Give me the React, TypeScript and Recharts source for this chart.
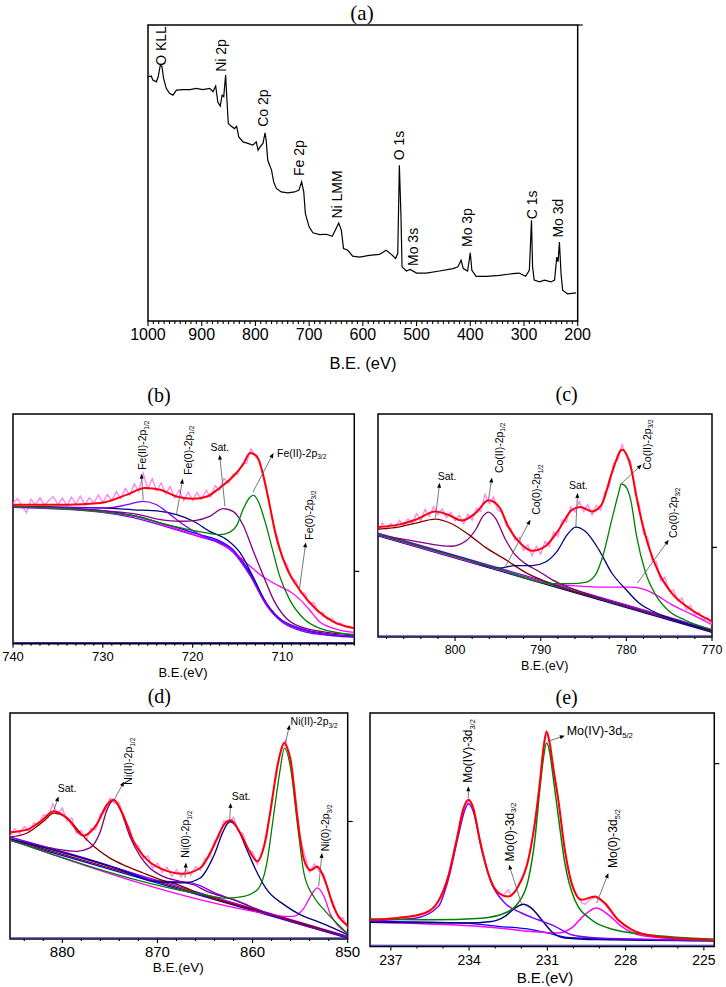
import React from 'react';
import { LineChart, Line, XAxis, YAxis, ReferenceArea, ReferenceDot, ReferenceLine } from 'recharts';

type Pt = [number, number];

const SANS = '"Liberation Sans", Arial, Helvetica, sans-serif';
const SERIF = '"Liberation Serif", "Times New Roman", serif';

// ---------------- (a) survey ----------------
const survey: Pt[] = [[1000,82.5],[994,82.8],[991,81.4],[984.5,80.8],[981,82.5],[977,86.5],[974,86],[971,82],[966,78.6],[960,76.9],[953.5,76.3],[947,78],[935,78.2],[922,78.2],[910,78.6],[898,78.2],[885,78.6],[879,77.5],[874,79.4],[870,74],[865.5,72.6],[862,76.3],[859,75.8],[855.5,83.1],[853,74.6],[850.5,66.7],[845,65.8],[839,65.0],[835,65.8],[831,62.2],[823,60.5],[814,60],[805,59.4],[798.5,60.5],[795,57.7],[791,58.9],[786,60],[782,63.6],[780,61.1],[777,54.3],[770,51],[766,47],[761,44.8],[752,43.6],[739.5,43.3],[727,43.6],[719,44.2],[714,47],[710,43.6],[707,36.3],[700,31.8],[693,29.8],[680.5,29.2],[668,29.3],[657,28.6],[650,31.2],[645,33.1],[640,30.7],[636,24.5],[628,23.9],[619,21.9],[606,21.6],[588,22.2],[569,22.5],[556.5,23.9],[547,22.5],[539,21.1],[535,22.8],[532,52.6],[529,35.2],[527,18.3],[519,16.9],[512,17.4],[500,16.2],[482,16.2],[457,16.9],[432,17.7],[423,18.3],[417,20.5],[413,17.7],[405,16.9],[400,23],[397,17.1],[389,15.1],[370,15.1],[346,15.4],[321,16],[309,16.2],[297,15.1],[290,17.1],[286,34],[284,18.3],[281,13.8],[271,13.2],[262,13.8],[249.5,13.2],[243,13.8],[239,21.6],[236.5,20],[234,26.7],[231,16],[228,10.4],[219,9.2],[203,9.5]];
const aMajor = [1000, 900, 800, 700, 600, 500, 400, 300, 200];

// ---------------- (b) Fe 2p ----------------
const bRaw: Pt[] = [[740,61.0],[739.5,63.2],[739,60.0],[738.5,57.0],[738,62.8],[737.5,60.4],[737,63.5],[736.5,60.2],[736,62.4],[735.5,64.0],[735,60.6],[734.5,63.4],[734,60.0],[733.5,63.8],[733,60.8],[732.5,64.2],[732,60.4],[731.5,63.6],[731,61.2],[730.5,64.8],[730,61.4],[729.5,65.0],[729,62.2],[728.5,66.2],[728,63.2],[727.5,67.6],[727,64.6],[726.5,69.6],[726,66.2],[725.5,74.2],[725,67.4],[724.5,71.8],[724,66.6],[723.5,70.0],[723,65.2],[722.5,68.4],[722,63.4],[721.5,66.8],[721,62.2],[720.5,66.0],[720,62.4],[719.5,65.8],[719,62.8],[718.5,66.8],[718,63.8],[717.5,68.8],[717,66.8],[716.5,72.0],[716,70.0],[715.5,73.9],[715,73.6],[714.5,78.3],[714,78.6],[713.5,84.8],[713,81.4],[712.5,79.6],[712,69.8],[711.5,62.8],[711,51.4],[710.5,45.5],[710,36.8],[709.5,34.6],[709,28.6],[708.5,27.4],[708,22.1],[707.5,22.0],[707,17.6],[706.5,17.8],[706,13.4],[705.5,13.6],[705,10.4],[704.5,11.2],[704,8.6],[703.5,9.0],[703,7.2],[702.5,7.6],[702,6.4]];
const bRed: Pt[] = [[740,60.5],[737,60.5],[734,60.5],[730.3,61.2],[727.3,64.9],[725.3,67.8],[723.6,67.0],[721.8,64.1],[719.9,63.1],[718.4,64.1],[717.0,67.8],[715.5,72.8],[714.4,77.9],[713.6,83.0],[712.9,81.8],[712.1,72.8],[711.4,59.8],[710.7,46.7],[709.6,33.7],[708.1,23.5],[706.2,14.8],[704.4,9.7],[702,6.7]];
const bBgA: Pt[] = [[740,59.8],[730.3,58.0],[726.6,55.7],[722.9,51.8],[719.2,47.5],[717.3,45.3],[715.5,40.9],[713.6,30.8],[711.8,17.7],[709.9,9.7],[708.1,6.4],[704.4,3.9],[702,3.2]];
const bBgB: Pt[] = [[740,59.4],[730.3,57.3],[726.6,54.9],[722.9,50.9],[719.2,46.5],[717.3,44.2],[715.5,39.8],[713.6,29.6],[711.8,16.8],[709.9,9.0],[708.1,5.8],[704.4,3.4],[702,2.8]];
const bViolet: Pt[] = [[740,59.8],[732.1,59.1],[729.6,59.1],[727.3,60.5],[725.5,62.0],[724,60.5],[722.5,56.2],[721,51.8],[719.2,47.5],[715.5,40.6],[713.6,30.0],[711.8,17.4],[709.9,9.6],[704.4,3.8],[702,3.2]];
const bNavy: Pt[] = [[740,59.8],[730.3,59.1],[726.6,58.3],[723.6,57.6],[721.8,56.2],[719.9,53.3],[718.1,48.9],[716.2,45.3],[714.7,39.5],[713.3,29.3],[711.8,17.7],[709.9,9.7],[704.4,3.9],[702,3.2]];
const bPurple: Pt[] = [[740,59.8],[726.6,56.6],[723.6,54.0],[721.4,53.3],[719.6,53.7],[718.1,55.4],[716.6,58.8],[715.5,57.6],[714.4,51.8],[713.3,40.9],[712.1,29.3],[711.0,19.2],[709.6,11.2],[708.1,7.5],[704.4,4.6],[702,3.9]];
const bGreen: Pt[] = [[740,59.8],[726.6,55.7],[722.9,51.8],[720.7,49.9],[718.4,48.2],[717,47.5],[715.9,48.5],[715.1,51.4],[714.4,58.3],[713.6,63.9],[713.2,64.6],[712.7,62.0],[712,54.0],[711.2,42.4],[710.3,29.3],[709.2,19.2],[707.7,11.2],[705.9,6.8],[702,3.9]];
const bMagenta: Pt[] = [[740,59.8],[726.6,55.7],[722.9,51.4],[719.2,46.7],[717.3,44.6],[715.5,40.2],[713.6,33.7],[712.1,29.0],[711,26.4],[709.9,24.2],[709.2,22.8],[708.1,19.4],[707,14.8],[705.9,9.7],[704.4,6.8],[702,4.9]];
const bMajor = [740, 730, 720, 710];

// ---------------- (c) Co 2p ----------------
const cRaw: Pt[] = [[809,47.0],[808.5,51.2],[808,48.3],[807.5,50.9],[807,49.0],[806.5,52.4],[806,49.8],[805.5,53.0],[805,51.0],[804.5,55.3],[804,52.1],[803.5,57.2],[803,54.1],[802.5,58.5],[802,54.8],[801.5,57.4],[801,53.6],[800.5,56.0],[800,52.0],[799.5,54.6],[799,50.8],[798.5,55.0],[798,52.4],[797.5,57.7],[797,56.2],[796.5,63.9],[796,59.8],[795.5,62.8],[795,56.6],[794.5,56.2],[794,49.6],[793.5,48.8],[793,43.4],[792.5,44.6],[792,38.8],[791.5,41.2],[791,36.4],[790.5,40.6],[790,37.2],[789.5,42.8],[789,40.6],[788.5,47.0],[788,45.1],[787.5,52.6],[787,51.6],[786.5,58.4],[786,56.0],[785.5,60.8],[785,56.2],[784.5,59.3],[784,54.8],[783.5,58.9],[783,57.0],[782.5,65.0],[782,67.4],[781.5,78.0],[781,79.2],[780.5,86.3],[780,81.2],[779.5,78.9],[779,64.6],[778.5,59.4],[778,46.2],[777.5,44.6],[777,34.0],[776.5,33.8],[776,25.2],[775.5,26.8],[775,20.4],[774.5,21.0],[774,16.2],[773.5,17.5],[773,12.0],[772.5,14.2],[772,9.8],[771.5,11.0],[771,7.4],[770.5,8.8],[770,5.6]];
const cRed: Pt[] = [[809,49.3],[806.6,50.4],[804.6,52.6],[802.3,56.3],[800.8,54.8],[799.2,52.2],[797.6,55.6],[796.1,61.3],[794.9,58.6],[793.7,48.9],[792.2,41.4],[791.0,38.7],[789.5,40.6],[787.9,48.1],[786.4,56.8],[785.4,58.3],[784.0,56.3],[782.9,59.3],[781.7,73.5],[780.5,84.0],[779.5,76.5],[778.6,58.6],[777.4,40.6],[776.2,28.7],[774.7,19.7],[772.7,13.0],[770,7.0]];
const cBgA: Pt[] = [[809,46.6],[770,3.3]];
const cBgB: Pt[] = [[809,45.4],[770,2.1]];
const cBgC: Pt[] = [[809,46.0],[770,2.7]];
const cBrown: Pt[] = [[809,48.4],[806.6,49.3],[804.6,51.1],[802.3,52.9],[800.4,50.8],[798.4,45.9],[796.5,40.3],[794.1,34.7],[791.8,29.0],[789.5,25.0],[787.1,21.6],[783.2,17.3],[779.3,13.0],[775.5,8.7],[770,2.5]];
const cPurple: Pt[] = [[809,45.9],[804.6,42.9],[800.4,40.7],[798.8,42.9],[797.6,48.1],[796.7,54.4],[796.1,56.0],[795.3,53.3],[794.1,43.6],[793.0,36.9],[791.8,32.9],[790.2,29.4],[788.7,25.7],[786.4,21.8],[783.2,17.6],[779.3,13.1],[775.5,8.7],[770,2.8]];
const cNavy: Pt[] = [[809,46.0],[798.8,35.0],[794.9,30.9],[793.0,32.0],[791.0,32.0],[789.5,33.5],[788.1,38.4],[786.9,45.9],[785.9,49.3],[784.8,47.4],[783.2,39.1],[781.7,28.7],[780.1,21.5],[778.6,15.5],[776.6,11.0],[773.5,6.6],[770,3.0]];
const cGreen: Pt[] = [[809,46.0],[794.9,30.5],[788.7,23.9],[786.4,23.9],[784.8,24.5],[783.6,28.0],[782.7,36.9],[781.7,52.6],[780.9,64.6],[780.6,68.6],[780.1,67.6],[779.5,61.6],[778.8,45.1],[777.8,29.4],[776.6,19.0],[775.1,11.9],[773.1,7.5],[770,3.3]];
const cMagenta: Pt[] = [[809,45.7],[794.9,30.2],[788.7,23.9],[786.4,23.0],[783.2,22.4],[780.9,22.4],[779.3,22.4],[777.8,21.2],[776.6,19.0],[774.7,14.5],[772.3,10.0],[770,5.5]];
const cMajor = [800, 790, 780, 770];

// ---------------- (d) Ni 2p ----------------
const dRaw: Pt[] = [[885.5,45.2],[885,48.8],[884.5,46.6],[884,49.8],[883.5,47.6],[883,51.4],[882.5,50.2],[882,55.0],[881.5,53.6],[881,59.8],[880.5,55.0],[880,58.0],[879.5,52.0],[879,53.5],[878.5,46.8],[878,48.0],[877.5,43.6],[877,48.9],[876.5,48.4],[876,55.2],[875.5,56.6],[875,62.3],[874.5,60.0],[874,60.2],[873.5,52.4],[873,49.6],[872.5,41.8],[872,41.4],[871.5,35.8],[871,36.8],[870.5,31.2],[870,33.6],[869.5,29.4],[869,31.8],[868.5,27.8],[868,30.6],[867.5,27.4],[867,30.8],[866.5,28.2],[866,32.0],[865.5,30.4],[865,35.6],[864.5,36.2],[864,43.4],[863.5,45.2],[863,52.4],[862.5,51.0],[862,53.8],[861.5,47.6],[861,46.6],[860.5,39.4],[860,38.6],[859.5,33.0],[859,38.0],[858.5,44.6],[858,61.4],[857.5,72.0],[857,84.6],[856.5,88.0],[856,77.8],[855.5,63.4],[855,44.6],[854.5,36.8],[854,29.6],[853.5,33.2],[853,30.0],[852.5,28.8],[852,20.4],[851.5,16.0],[851,9.2],[850.5,9.4],[850,4.6]];
const dRed: Pt[] = [[885.5,47.2],[883.7,48.4],[882.3,52.0],[880.9,56.5],[879.5,53.5],[877.8,45.7],[876.4,50.6],[875.3,59.4],[874.6,61.6],[873.7,55.7],[872.5,43.2],[871.1,35.1],[869.4,30.7],[867.3,28.9],[865.5,31.4],[864.1,41.0],[863.0,50.6],[862.3,52.5],[861.3,46.9],[860.2,38.0],[859.5,34.4],[858.8,41.0],[858.1,57.2],[857.4,76.4],[857.0,83.5],[856.7,86.7],[856.35,84.5],[856.0,79.3],[855.3,54.2],[854.6,35.1],[853.9,30.4],[853.2,32.1],[852.3,24.8],[851.5,14.4],[850,5.9]];
const dBgA: Pt[] = [[885.5,45.1],[850,1.2]];
const dBgB: Pt[] = [[885.5,44.2],[850,0.9]];
const dBgC: Pt[] = [[885.5,43.6],[850,0.4]];
const dBrown: Pt[] = [[885.5,45.1],[883.7,46.9],[882.0,52.0],[880.9,55.7],[879.5,53.5],[878.1,46.9],[876.7,41.0],[875.0,35.8],[873.2,32.1],[871.5,29.2],[869.7,26.3],[867.6,23.6],[865.5,19.9],[858.5,11.3],[850,0.9]];
const dPurple: Pt[] = [[885.5,44.2],[881.3,40.3],[878.5,38.8],[877.1,40.3],[876.0,47.6],[875.3,57.2],[874.6,61.4],[873.9,57.2],[872.9,45.4],[871.8,36.6],[870.8,31.4],[869.4,27.7],[867.6,25.5],[866.2,24.0],[864.8,21.1],[862.0,17.4],[858.5,11.3],[850,0.9]];
const dNavy: Pt[] = [[885.5,44.2],[872.5,28.5],[870.8,25.8],[869.0,25.1],[867.3,24.8],[865.5,27.0],[864.1,36.6],[863.0,48.4],[862.4,52.0],[861.6,49.1],[860.6,39.5],[859.5,29.2],[858.5,21.8],[856.7,15.2],[855.0,10.8],[853.2,7.8],[851.5,4.8],[850,1.9]];
const dViolet: Pt[] = [[885.5,45.1],[872.5,28.9],[870.8,26.3],[869.0,25.5],[866.9,25.2],[865.5,23.6],[864.1,20.6],[862.0,17.4],[858.5,11.5],[850,1.2]];
const dGreen: Pt[] = [[885.5,43.9],[865.5,19.9],[862.7,18.1],[860.9,18.9],[859.5,21.8],[858.5,33.6],[857.8,54.3],[857.1,74.9],[856.66,84.5],[856.0,75.6],[855.3,51.3],[854.6,29.2],[853.6,18.9],[852.5,13.0],[851.5,8.5],[850,2.3]];
const dMagenta: Pt[] = [[885.5,43.9],[858.5,11.2],[856.7,10.0],[855.7,10.0],[854.6,13.7],[853.7,20.3],[853.2,22.6],[852.5,18.9],[851.8,10.8],[851.1,6.3],[850,2.6]];
const dMajor = [880, 870, 860, 850];

// ---------------- (e) Mo 3d ----------------
const eRaw: Pt[] = [[237.8,11.0],[237.3,11.9],[236.8,12.3],[236.3,12.6],[235.8,13.8],[235.5,15.2],[235.2,19.0],[235.0,23.8],[234.8,30.3],[234.6,40.0],[234.48,45.4],[234.3,55.2],[234.15,60.8],[234.03,62.0],[233.9,60.6],[233.75,54.0],[233.6,45.3],[233.4,36.5],[233.27,31.0],[233.1,26.0],[232.88,23.5],[232.7,21.8],[232.5,24.2],[232.4,22.0],[232.25,23.4],[232.12,26.0],[231.9,31.5],[231.73,37.3],[231.6,44.5],[231.48,53.1],[231.38,62.5],[231.29,70.3],[231.16,84.0],[231.03,91.5],[230.9,86.0],[230.78,76.8],[230.68,70.0],[230.58,62.5],[230.45,51.5],[230.33,41.0],[230.2,33.0],[230.07,26.6],[229.9,22.5],[229.69,18.8],[229.55,18.0],[229.4,19.8],[229.18,21.0],[229.0,20.0],[228.8,18.0],[228.55,14.5],[228.29,11.0],[228.0,8.8],[227.77,7.0],[227.3,5.4],[226.88,4.8],[226.5,3.8],[226.0,3.4],[225.5,2.8],[225.0,2.9],[224.6,2.5]];
const eRed: Pt[] = [[237.8,11.4],[236.72,12.2],[235.69,14.3],[235.18,19.3],[234.8,30.0],[234.48,45.7],[234.23,58.6],[234.03,62.8],[233.84,59.3],[233.59,45.7],[233.27,31.4],[232.88,22.9],[232.5,21.4],[232.12,25.7],[231.73,37.1],[231.48,52.9],[231.29,70.0],[231.16,84.0],[231.03,92.1],[230.9,86.5],[230.78,77.1],[230.58,62.8],[230.33,41.4],[230.07,27.1],[229.69,20.0],[229.18,21.4],[228.8,18.6],[228.29,11.4],[227.77,7.2],[226.88,4.3],[224.6,2.6]];
const eBg: Pt[] = [[237.8,10.7],[235.44,10.4],[234.16,10.0],[232.88,8.6],[231.61,7.2],[230.97,5.7],[230.33,4.0],[229.05,3.3],[227.77,2.9],[224.6,2.4]];
const eGreen: Pt[] = [[237.8,11.7],[235.44,11.4],[233.52,12.1],[232.63,14.3],[232.12,18.6],[231.73,28.6],[231.48,45.7],[231.29,67.1],[231.16,80.0],[231.03,87.1],[230.9,82.5],[230.78,72.8],[230.58,55.7],[230.33,35.7],[229.95,20.0],[229.31,11.4],[228.41,7.1],[227.13,5.0],[224.6,3.1]];
const eViolet: Pt[] = [[237.8,11.1],[236.08,12.1],[235.18,17.1],[234.8,28.6],[234.42,47.1],[234.16,58.6],[234.03,61.1],[233.84,57.8],[233.52,41.4],[233.14,27.1],[232.63,18.6],[231.99,14.3],[231.35,11.4],[230.71,8.6],[230.07,5.0],[229.05,3.6],[224.6,2.6]];
const eNavy: Pt[] = [[237.8,10.3],[234.16,10.0],[233.14,10.7],[232.63,12.9],[232.24,16.4],[231.92,18.1],[231.61,16.4],[231.22,11.4],[230.84,6.4],[230.33,3.6],[229.05,2.9],[224.6,2.4]];
const eMagenta: Pt[] = [[237.8,10.3],[232.88,7.9],[231.61,6.4],[230.58,5.7],[230.07,7.9],[229.56,13.6],[229.12,16.4],[228.67,13.6],[228.16,8.6],[227.52,5.0],[226.5,3.6],[224.6,2.9]];
const eMajor = [237, 234, 231, 228, 225];

// ---------------- helpers ----------------
const range = (a: number, b: number, s: number) => {
  const r: number[] = [];
  for (let v = a; v <= b + 1e-9; v += s) r.push(Math.round(v * 100) / 100);
  return r;
};

interface SeriesCfg { pts: Pt[]; color: string; w: number; kind: 'monotone' | 'linear'; }
interface NoteCfg { text: string; sub?: string; at: Pt; rot: boolean; anchor: 'start' | 'middle'; fs: number; }
interface ArrowCfg { from: Pt; to: Pt; }
interface PanelCfg {
  id: string;
  left: number; top: number; w: number; h: number;
  domain: [number, number];
  ticks: number[]; majors: number[];
  tickFs: number; tickDy: number; majorLen: number; minorLen: number;
  series: SeriesCfg[];
  notes: NoteCfg[];
  arrows: ArrowCfg[];
  rightTick: number;
  baseLine: boolean;
  frameW: number;
}

const RED = '#FF0000', RAW = '#FF80FF', GREEN = '#008000', NAVY = '#000080', PURPLE = '#800080', VIOLET = '#8000FF', MAGENTA = '#FF00FF', BROWN = '#800000', BLUE = '#0000FF';

const S = (pts: Pt[], color: string, w: number, kind: 'monotone' | 'linear' = 'monotone'): SeriesCfg => ({ pts, color, w, kind });
const N = (text: string, sub: string | undefined, at: Pt, rot: boolean, fs: number, anchor: 'start' | 'middle' = 'start'): NoteCfg => ({ text, sub, at, rot, anchor, fs });
const A = (from: Pt, to: Pt): ArrowCfg => ({ from, to });

const panels: PanelCfg[] = [
  {
    id: 'a', left: 148.3, top: 25, w: 429.7, h: 296, domain: [200, 1000],
    ticks: range(200, 1000, 10), majors: aMajor, tickFs: 16, tickDy: 14, majorLen: 5, minorLen: 3,
    series: [S(survey, '#000', 1.2, 'linear')],
    notes: [
      N('O KLL', undefined, [975.2, 86.2], true, 14), N('Ni 2p', undefined, [864.8, 84.2], true, 14),
      N('Co 2p', undefined, [786, 65.6], true, 14), N('Fe 2p', undefined, [719, 49], true, 14),
      N('Ni LMM', undefined, [647.7, 34.6], true, 14), N('O 1s', undefined, [531.8, 54.3], true, 14),
      N('Mo 3s', undefined, [505.7, 18.6], true, 14), N('Mo 3p', undefined, [406.5, 25], true, 14),
      N('C 1s', undefined, [284.9, 34.4], true, 14), N('Mo 3d', undefined, [237.2, 28.2], true, 14),
    ],
    arrows: [], rightTick: 100, baseLine: false, frameW: 1.5,
  },
  {
    id: 'b', left: 12.7, top: 414.3, w: 341.3, h: 229.7, domain: [702, 740],
    ticks: range(702, 740, 1), majors: bMajor, tickFs: 13, tickDy: 12.7, majorLen: 4, minorLen: 2,
    series: [S(bRaw, RAW, 1.3, 'linear'), S(bBgA, BLUE, 1.3), S(bBgB, VIOLET, 1.3), S(bMagenta, MAGENTA, 1.3), S(bNavy, NAVY, 1.3), S(bViolet, VIOLET, 1.3), S(bPurple, PURPLE, 1.3), S(bGreen, GREEN, 1.3), S(bRed, RED, 2)],
    notes: [
      N('Fe(II)-2p', '1/2', [725.56, 75.7], true, 10.5), N('Fe(0)-2p', '1/2', [720.5, 73.5], true, 10.5),
      N('Sat.', undefined, [716.97, 85.2], false, 10.5, 'middle'), N('Fe(II)-2p', '3/2', [710.6, 83.0], false, 10.5),
      N('Fe(0)-2p', '3/2', [706.97, 45.3], true, 10.5),
    ],
    arrows: [A([725.5, 62.7], [725.7, 74.0]), A([721.8, 56.2], [721.1, 71.8]), A([716.4, 59.8], [717.0, 82.3]), A([713.3, 65.9], [711.0, 83.0]), A([708.1, 24.2], [707.4, 44.1])],
    rightTick: 31.5, baseLine: true, frameW: 1.5,
  },
  {
    id: 'c', left: 377.7, top: 414.3, w: 334, h: 223, domain: [770, 809],
    ticks: range(770, 808, 2), majors: cMajor, tickFs: 12.5, tickDy: 12.7, majorLen: 4, minorLen: 2,
    series: [S(cRaw, RAW, 1.3, 'linear'), S(cBgA, VIOLET, 1.3, 'linear'), S(cBgC, GREEN, 1.3, 'linear'), S(cBgB, NAVY, 1.3, 'linear'), S(cMagenta, MAGENTA, 1.3), S(cBrown, BROWN, 1.3), S(cPurple, PURPLE, 1.3), S(cNavy, NAVY, 1.3), S(cGreen, GREEN, 1.3), S(cRed, RED, 2)],
    notes: [
      N('Sat.', undefined, [800.94, 72.0], false, 10.5, 'middle'), N('Co(II)-2p', '1/2', [794.9, 73.5], true, 10.5),
      N('Co(0)-2p', '1/2', [790.5, 54.8], true, 10.5), N('Sat.', undefined, [785.6, 68.3], false, 10.5, 'middle'),
      N('Co(II)-2p', '3/2', [777.6, 75.0], true, 10.5), N('Co(0)-2p', '3/2', [774.5, 44.4], true, 10.5),
    ],
    arrows: [A([802.3, 53.5], [801.8, 69.2]), A([796.1, 61.6], [795.7, 71.5]), A([794.1, 31.7], [791.2, 52.6]), A([785.9, 49.3], [785.7, 64.6]), A([780.5, 69.1], [778.2, 77.3]), A([778.7, 24.2], [775.05, 43.6])],
    rightTick: 40.2, baseLine: true, frameW: 1.5,
  },
  {
    id: 'd', left: 10, top: 713.3, w: 337.7, h: 226, domain: [850, 885.5],
    ticks: range(850, 884, 2), majors: dMajor, tickFs: 15, tickDy: 12.4, majorLen: 4, minorLen: 2,
    series: [S(dRaw, RAW, 1.3, 'linear'), S(dBgA, VIOLET, 1.3, 'linear'), S(dBgC, BLUE, 1.3, 'linear'), S(dBgB, BROWN, 1.3, 'linear'), S(dMagenta, MAGENTA, 1.3), S(dViolet, VIOLET, 1.3), S(dBrown, BROWN, 1.3), S(dPurple, PURPLE, 1.3), S(dNavy, NAVY, 1.3), S(dGreen, GREEN, 1.3), S(dRed, RED, 2)],
    notes: [
      N('Sat.', undefined, [879.5, 66.4], false, 10.5, 'middle'), N('Ni(II)-2p', '1/2', [873.05, 68.3], true, 10.5),
      N('Ni(0)-2p', '1/2', [867.0, 36.0], true, 10.5), N('Sat.', undefined, [861.2, 63.1], false, 10.5, 'middle'),
      N('Ni(II)-2p', '3/2', [856.0, 96.3], false, 10.5), N('Ni(0)-2p', '3/2', [852.3, 38.8], true, 10.5),
    ],
    arrows: [A([880.9, 56.8], [880.4, 63.1]), A([874.55, 61.6], [873.5, 69.7]), A([867.1, 27.1], [867.0, 33.8]), A([862.4, 52.8], [862.3, 60.2]), A([856.55, 86.7], [856.1, 94.8]), A([853.05, 23.3], [852.7, 38.1])],
    rightTick: 52.0, baseLine: true, frameW: 1.5,
  },
  {
    id: 'e', left: 370, top: 713.3, w: 344.3, h: 233.4, domain: [224.6, 237.8],
    ticks: range(225, 237, 1), majors: eMajor, tickFs: 14, tickDy: 14, majorLen: 4, minorLen: 2,
    series: [S(eRaw, RAW, 1.2, 'linear'), S(eBg, BLUE, 1.3), S(eMagenta, MAGENTA, 1.5), S(eNavy, NAVY, 1.5), S(eViolet, VIOLET, 1.5), S(eGreen, GREEN, 1.5), S(eRed, RED, 2)],
    notes: [
      N('Mo(IV)-3d', '3/2', [234.03, 70.1], true, 12), N('Mo(0)-3d', '3/2', [232.44, 36.4], true, 12),
      N('Mo(IV)-3d', '5/2', [230.26, 92.1], false, 12.5), N('Mo(0)-3d', '5/2', [228.48, 33.6], true, 12),
    ],
    arrows: [A([234.03, 63.5], [234.03, 68.6]), A([231.99, 18.2], [232.47, 35.0]), A([230.99, 87.8], [230.33, 90.3]), A([229.11, 18.6], [228.66, 31.4])],
    rightTick: 78.3, baseLine: true, frameW: 1.5,
  },
];

interface Caption { text: string; x: number; y: number; fs: number; serif: boolean; }
const captions: Caption[] = [
  { text: '(a)', x: 362, y: 13, fs: 21, serif: true },
  { text: 'B.E. (eV)', x: 363, y: 363, fs: 16.5, serif: false },
  { text: '(b)', x: 159, y: 395, fs: 20, serif: true },
  { text: 'B.E.(eV)', x: 183, y: 671.7, fs: 13, serif: false },
  { text: '(c)', x: 566.7, y: 394.3, fs: 20, serif: true },
  { text: 'B.E.(eV)', x: 544.7, y: 666, fs: 12.5, serif: false },
  { text: '(d)', x: 159.3, y: 696, fs: 20, serif: true },
  { text: 'B.E.(eV)', x: 178.3, y: 968.3, fs: 13.5, serif: false },
  { text: '(e)', x: 566.7, y: 697.3, fs: 20, serif: true },
  { text: 'B.E.(eV)', x: 545, y: 976.7, fs: 15, serif: false },
];

const arrowShape = (p: any) => {
  const { x1, y1, x2, y2 } = p;
  if ([x1, y1, x2, y2].some((v) => typeof v !== 'number' || isNaN(v))) return <g />;
  const ang = Math.atan2(y2 - y1, x2 - x1);
  const L = 5, W = 2;
  const bx = x2 - L * Math.cos(ang), by = y2 - L * Math.sin(ang);
  const px = -Math.sin(ang) * W, py = Math.cos(ang) * W;
  return (
    <g>
      <line x1={x1} y1={y1} x2={bx} y2={by} stroke="#555" strokeWidth={0.8} />
      <polygon points={`${x2},${y2} ${bx + px},${by + py} ${bx - px},${by - py}`} fill="#000" />
    </g>
  );
};

const noteShape = (n: NoteCfg) => (p: any) => {
  const { cx, cy } = p;
  if (typeof cx !== 'number' || typeof cy !== 'number') return <g />;
  return (
    <text
      x={cx}
      y={cy}
      fontSize={n.fs}
      fontFamily={SANS}
      fill="#000"
      textAnchor={n.anchor}
      dominantBaseline="central"
      transform={n.rot ? `rotate(-90 ${cx} ${cy})` : undefined}
    >
      {n.text}
      {n.sub ? <tspan fontSize={n.fs * 0.62} dy={n.fs * 0.3}>{n.sub}</tspan> : null}
    </text>
  );
};

function Panel({ c }: { c: PanelCfg }) {
  const ML = 25, MR = 15, MT = 10, XH = 45, YW = 10;
  const width = c.w + ML + MR + YW;
  const height = c.h + MT + XH;
  const renderTick = (p: any) => {
    const { x, y, payload } = p;
    const v = payload.value as number;
    const major = c.majors.includes(v);
    return (
      <g>
        <line x1={x} y1={y} x2={x} y2={y + (major ? c.majorLen : c.minorLen)} stroke="#000" strokeWidth={1.1} />
        {major ? (
          <text x={x} y={y + c.tickDy} textAnchor="middle" dominantBaseline="central" fontSize={c.tickFs} fontFamily={SANS} fill="#000">
            {v}
          </text>
        ) : null}
      </g>
    );
  };
  return (
    <div style={{ position: 'absolute', left: c.left - ML, top: c.top - MT, width, height }}>
      <LineChart width={width} height={height} margin={{ top: MT, right: MR, bottom: 0, left: ML }}>
        <XAxis
          dataKey="x"
          type="number"
          domain={c.domain}
          reversed
          allowDataOverflow
          ticks={c.ticks}
          interval={0}
          tickLine={false}
          axisLine={false}
          tickSize={0}
          tickMargin={0}
          height={XH}
          tick={renderTick}
        />
        <YAxis type="number" domain={[0, 100]} hide allowDataOverflow />
        <YAxis
          yAxisId="r"
          orientation="right"
          type="number"
          domain={[0, 100]}
          ticks={[c.rightTick]}
          width={YW}
          axisLine={false}
          stroke="#000"
          tickSize={5}
          tickLine={{ stroke: '#000', strokeWidth: 1.2 }}
          tick={() => <g />}
          allowDataOverflow
        />
        {c.series.map((s, i) => (
          <Line
            key={`${c.id}-s${i}`}
            data={s.pts.map(([x, y]) => ({ x, y }))}
            dataKey="y"
            type={s.kind}
            stroke={s.color}
            strokeWidth={s.w}
            dot={false}
            activeDot={false}
            isAnimationActive={false}
          />
        ))}
        {c.baseLine ? <ReferenceLine y={0.5} stroke="#2424B0" strokeWidth={1} /> : null}
        <ReferenceArea x1={c.domain[0]} x2={c.domain[1]} y1={0} y2={100} fill="none" stroke="#000" strokeWidth={c.frameW} ifOverflow="visible" />
        {c.arrows.map((a, i) => (
          <ReferenceLine
            key={`${c.id}-a${i}`}
            segment={[{ x: a.from[0], y: a.from[1] }, { x: a.to[0], y: a.to[1] }]}
            shape={arrowShape}
            ifOverflow="visible"
          />
        ))}
        {c.notes.map((n, i) => (
          <ReferenceDot key={`${c.id}-n${i}`} x={n.at[0]} y={n.at[1]} r={0} ifOverflow="visible" shape={noteShape(n)} />
        ))}
      </LineChart>
    </div>
  );
}

export default function App() {
  return (
    <div style={{ position: 'absolute', left: 0, top: 0, width: 726, height: 987, overflow: 'hidden', background: '#fff' }}>
      {panels.map((p) => (
        <Panel key={p.id} c={p} />
      ))}
      {captions.map((t, i) => (
        <div
          key={i}
          style={{
            position: 'absolute',
            left: t.x,
            top: t.y,
            transform: 'translate(-50%, -50%)',
            whiteSpace: 'nowrap',
            lineHeight: 1,
            fontSize: t.fs,
            fontFamily: t.serif ? SERIF : SANS,
            color: '#000',
          }}
        >
          {t.text}
        </div>
      ))}
    </div>
  );
}
